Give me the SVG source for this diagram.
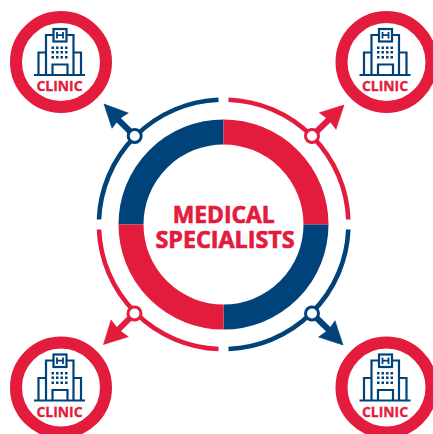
<svg xmlns="http://www.w3.org/2000/svg" width="433" height="434" viewBox="0 0 433 434">
<style>
.b{fill:none;stroke:#00427a;stroke-width:2.2}
.c{font:700 15px "Open Sans","Liberation Sans",sans-serif;fill:#e31b3c;stroke:#e31b3c;stroke-width:.35;text-anchor:middle}
.t{font:700 23.500px "Open Sans","Liberation Sans",sans-serif;fill:#e31b3c;stroke:#e31b3c;stroke-width:.7;text-anchor:middle}
.arc{fill:none;stroke-width:4.600}
.dot{fill:#fff;stroke-width:3}
</style>
<defs>
<g id="clinic">
<circle cx="61" cy="62" r="45" fill="#fff" stroke="#e31b3c" stroke-width="12"/>
<path class="b" d="M46 75V35H53M67 35H73.500V75M46 52.500H38.500V75M73.500 52.500H81V75M52.500 75V64.500H67.500V75M34 75H85"/>
<rect class="b" x="53.500" y="29" width="13" height="12.500"/>
<path d="M57 32V38.500M63 32V38.500M57 35.200H63" fill="none" stroke="#00427a" stroke-width="1.800"/>
<g fill="#00427a"><rect x="51.500" y="46.500" width="2.500" height="2.500"/><rect x="56" y="46.500" width="2.500" height="2.500"/><rect x="60.500" y="46.500" width="2.500" height="2.500"/><rect x="65" y="46.500" width="2.500" height="2.500"/><rect x="51.500" y="51" width="2.500" height="2.500"/><rect x="56" y="51" width="2.500" height="2.500"/><rect x="60.500" y="51" width="2.500" height="2.500"/><rect x="65" y="51" width="2.500" height="2.500"/><rect x="51.500" y="56" width="2.500" height="2.500"/><rect x="56" y="56" width="2.500" height="2.500"/><rect x="60.500" y="56" width="2.500" height="2.500"/><rect x="65" y="56" width="2.500" height="2.500"/></g>
<text class="c" x="59.500" y="91" textLength="46" lengthAdjust="spacingAndGlyphs">CLINIC</text>
</g>
</defs>
<g id="clinic-tl"><use href="#clinic"/></g>
<g id="clinic-tr"><use href="#clinic" x="325.500" y="0"/></g>
<g id="clinic-bl"><use href="#clinic" x="0" y="325.500"/></g>
<g id="clinic-br"><use href="#clinic" x="325.500" y="325.500"/></g>
<g id="ring" fill="none" stroke-width="25">
<path d="M131 224.500A92.500 92.500 0 0 1 223.500 132" stroke="#00427a"/>
<path d="M223.500 132A92.500 92.500 0 0 1 316 224.500" stroke="#e31b3c"/>
<path d="M316 224.500A92.500 92.500 0 0 1 223.500 317" stroke="#00427a"/>
<path d="M223.500 317A92.500 92.500 0 0 1 131 224.500" stroke="#e31b3c"/>
</g>
<g id="connectors">
<g stroke="#00427a" fill="#00427a">
<path class="arc" d="M99 219.500A124.500 124.500 0 0 1 218.500 99.800"/>
<path stroke-width="6" d="M134.700 136L117 118.500"/>
<path stroke-width=".6" stroke-linejoin="round" d="M104 104L128.300 113L119 119L112 128.300Z"/>
<circle class="dot" cx="134.700" cy="136" r="6.500" style="fill:#fff"/>
<path class="arc" d="M348.300 229.500A124.500 124.500 0 0 1 228.500 349"/>
<path stroke-width="6" d="M312 313.500L330 331"/>
<path stroke-width=".6" stroke-linejoin="round" d="M343 345L318.500 337L328.500 330L335 320.700Z"/>
<circle class="dot" cx="312" cy="313.500" r="6.500" style="fill:#fff"/>
</g>
<g stroke="#e31b3c" fill="#e31b3c">
<path class="arc" d="M228.500 99.800A124.500 124.500 0 0 1 348.300 219.500"/>
<path stroke-width="6" d="M312 136L330 118.500"/>
<path stroke-width=".6" stroke-linejoin="round" d="M344 105L319.300 112.700L328.500 119.500L336 129.300Z"/>
<circle class="dot" cx="312" cy="136" r="6.500" style="fill:#fff"/>
<path class="arc" d="M218.500 349A124.500 124.500 0 0 1 99 229.500"/>
<path stroke-width="6" d="M134.500 313.500L117 331"/>
<path stroke-width=".6" stroke-linejoin="round" d="M103.500 344.500L128.300 336.700L118.500 329.500L111 320Z"/>
<circle class="dot" cx="134.500" cy="313.500" r="6.500" style="fill:#fff"/>
</g>
</g>
<g id="title">
<text class="t" x="223.700" y="223.400" textLength="102" lengthAdjust="spacingAndGlyphs">MEDICAL</text>
<text class="t" x="225" y="247.700" textLength="139" lengthAdjust="spacingAndGlyphs">SPECIALISTS</text>
</g>
</svg>
